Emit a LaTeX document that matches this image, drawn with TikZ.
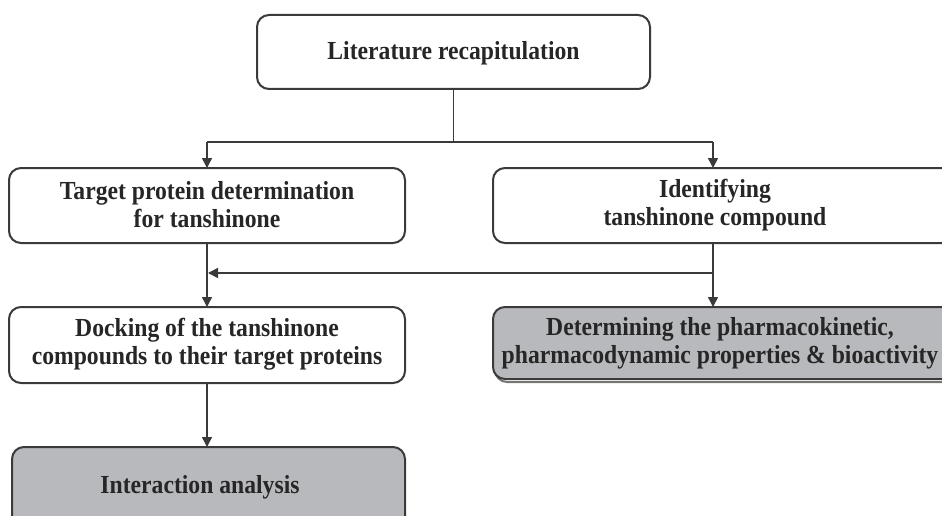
\documentclass[tikz,border=0pt]{standalone}
\usepackage{fontspec}
\setmainfont{Liberation Serif}[FakeStretch=0.91]
\usetikzlibrary{arrows.meta}
\definecolor{ln}{HTML}{3A3A3A}
\definecolor{gr}{HTML}{B8B9BC}
\begin{document}
\begin{tikzpicture}[x=1pt,y=-1pt,
  box/.style={draw=ln,line width=2pt,rounded corners=12pt,fill=white},
  graybox/.style={box,fill=gr},
  txt/.style={font=\bfseries\fontsize{26}{28}\selectfont,align=center,text=black!85,inner sep=0pt},
  conn/.style={draw=ln,line width=1.5pt},
  arr/.style={conn,-{Triangle[width=10pt,length=10pt]}}]
\useasboundingbox (0,0) rectangle (942,516);
\clip (0,0) rectangle (942,516);
% boxes
\draw[box] (257,15) rectangle (650,89);
\node[txt] (top) at (453.5,53) {Literature recapitulation};
\coordinate (topb) at (453.5,89);

\draw[box] (9,168) rectangle (405,243);
\node[txt] (tp) at (207,205) {Target protein determination\\for tanshinone};
\coordinate (tpt) at (207,168);
\coordinate (tpb) at (207,243);

\draw[box] (493,168) rectangle (960,243);
\node[txt] (id) at (715,205) {Identifying\\tanshinone compound};
\coordinate (idt) at (713,168);
\coordinate (idb) at (713,243);

\draw[box] (9,307) rectangle (405,383);
\node[txt] (dk) at (207,344) {Docking of the tanshinone\\compounds to their target proteins};
\coordinate (dkt) at (207,307);
\coordinate (dkb) at (207,383);

\draw[draw=ln!70,line width=2pt,rounded corners=12pt] (495,311) rectangle (960,382);
\draw[graybox] (493,307) rectangle (960,379);
\node[txt] (dt) at (720,343) {Determining the pharmacokinetic,\\pharmacodynamic properties \& bioactivity};
\coordinate (dtt) at (713,307);

\draw[graybox] (12,447) rectangle (405,540);
\node[txt] (ia) at (200,487) {Interaction analysis};
\coordinate (iat) at (207,447);

% connectors
\coordinate (j) at (453.5,142);
\coordinate (jl) at (207,142);
\coordinate (jr) at (713,142);
\draw[conn] (topb) -- (j);
\draw[conn] (jl) -- (jr);
\draw[arr] (jl) -- (tpt);
\draw[arr] (jr) -- (idt);
\draw[arr] (tpb) -- (dkt);
\draw[arr] (idb) -- (dtt);
\coordinate (hr) at (713,273);
\coordinate (hl) at (208,273);
\draw[arr] (hr) -- (hl);
\draw[arr] (dkb) -- (iat);
\end{tikzpicture}
\end{document}
